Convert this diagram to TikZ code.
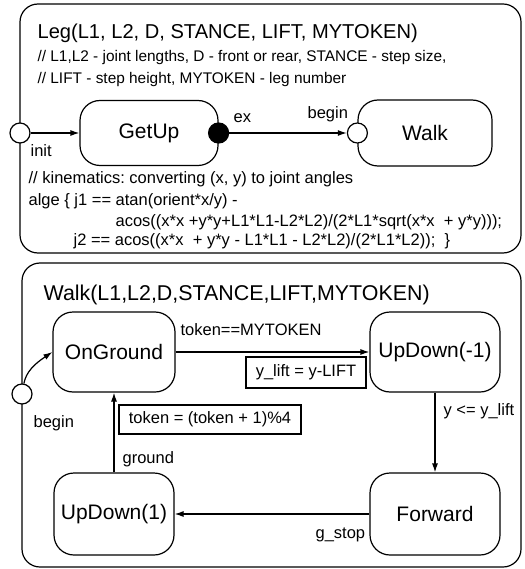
\documentclass[tikz,border=0pt]{standalone}
\usepackage{fontspec}
\setmainfont{Liberation Sans}
\usetikzlibrary{arrows.meta}
\frenchspacing

\begin{document}
\begin{tikzpicture}[x=1pt, y=-1pt,
        line width=1.2pt,
        big/.style={font=\fontsize{21}{25}\selectfont},
        small/.style={font=\fontsize{16.5}{20}\selectfont},
        state/.style={draw, rounded corners=20pt, inner sep=0pt, big},
        pseudo/.style={draw, circle, minimum size=20pt, inner sep=0pt, fill=white},
        action/.style={draw, rectangle, inner sep=0pt, small},
        txt/.style={anchor=base west, inner sep=0pt},
        trans/.style={-{Latex[length=9pt,width=6pt]}}]
    \useasboundingbox (0,0) rectangle (524,569);

    % Leg
    \draw[rounded corners=18pt] (20,4) rectangle (521,253);
    \node[txt, font=\fontsize{20.1}{24}\selectfont] (legtitle) at (37,39) {Leg(L1, L2, D, STANCE, LIFT, MYTOKEN)};
    \node[txt, font=\fontsize{15.4}{19}\selectfont] (legdoca) at (37,62) {// L1,L2 - joint lengths, D - front or rear, STANCE - step size,};
    \node[txt, font=\fontsize{15.4}{19}\selectfont] (legdocb) at (37,84) {// LIFT - step height, MYTOKEN - leg number};

    \node[state, minimum width=138pt, minimum height=65pt] (getup) at (149,133) {GetUp};
    \node[state, minimum width=134pt, minimum height=66pt] (walk) at (425,133) {Walk};
    \node[pseudo] (init) at (20,133) {};
    \node[pseudo, fill=black] (exit) at (getup.east) {};
    \node[pseudo] (entry) at (walk.west) {};
    \draw[trans] (init) -- (getup);
    \draw[trans] (exit) -- (entry);
    \node[txt, small] (initlbl) at (30,157) {init};
    \node[txt, small] (exlbl) at (233,123) {ex};
    \node[txt, small] (beginlbl) at (307,119) {begin};

    \node[txt, small] (kina) at (28,183) {// kinematics: converting (x, y) to joint angles};
    \node[txt, small] (kinb) at (28,205) {alge \{ j1 == atan(orient*x/y) -};
    \node[txt, small] (kinc) at (115,226) {acos((x*x +y*y+L1*L1-L2*L2)/(2*L1*sqrt(x*x\ \ + y*y)));};
    \node[txt, small] (kind) at (73,245) {j2 == acos((x*x\ \ + y*y - L1*L1 - L2*L2)/(2*L1*L2));\ \ \}};

    % Walk
    \draw[rounded corners=18pt] (22,263) rectangle (521,567);
    \node[txt, font=\fontsize{21.4}{25}\selectfont] (walktitle) at (43,300) {Walk(L1,L2,D,STANCE,LIFT,MYTOKEN)};

    \node[state, minimum width=122pt, minimum height=80pt] (onground) at (114,352) {OnGround};
    \node[state, minimum width=130pt, minimum height=80pt] (updownm) at (435,352) {UpDown(-1)};
    \node[state, minimum width=120pt, minimum height=82pt] (updownp) at (114,514) {UpDown(1)};
    \node[state, minimum width=130pt, minimum height=82pt] (forward) at (435,514) {Forward};
    \node[pseudo] (walkinit) at (22,394) {};

    \draw[trans] (walkinit) .. controls +(4,-22) and +(-18,12) .. (onground.west);
    \draw[trans] (onground) -- (updownm);
    \draw[trans] (updownm) -- (forward);
    \draw[trans] (forward) -- (updownp);
    \draw[trans] (updownp) -- (onground);

    \node[txt, small] (walkinitlbl) at (33,427) {begin};
    \node[txt, small] (tokenlbl) at (180,335) {token==MYTOKEN};
    \node[txt, small] (liftlbl) at (443,415) {y <= y\_lift};
    \node[txt, small] (groundlbl) at (122,463) {ground};
    \node[txt, small] (stoplbl) at (315,538) {g\_stop};

    \node[action, minimum width=120pt, minimum height=31pt] (liftact) at (306,372.5) {y\_lift = y-LIFT};
    \node[action, minimum width=182pt, minimum height=29pt] (tokenact) at (210,419.5) {token = (token + 1)\%4};
\end{tikzpicture}
\end{document}
